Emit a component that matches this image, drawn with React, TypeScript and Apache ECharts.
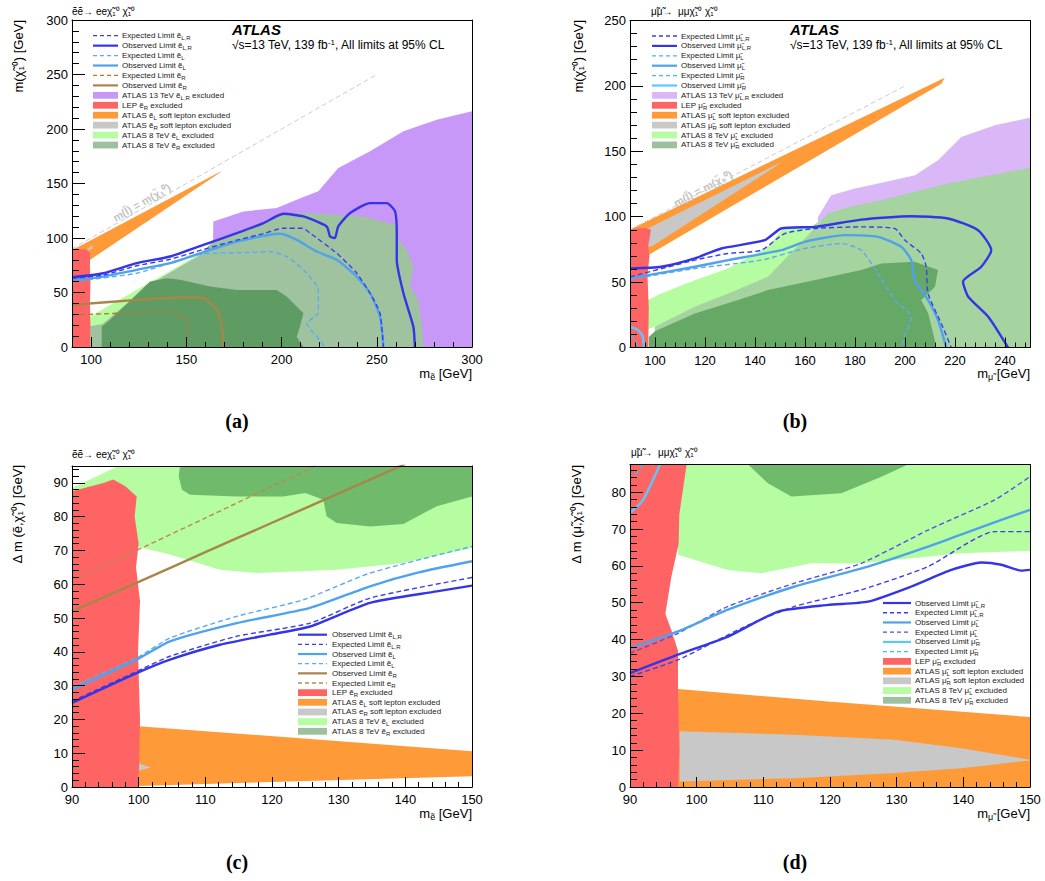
import React, { useEffect, useRef } from "react";
import * as echarts from "echarts";

const FONT = "'Liberation Sans', Arial, Helvetica, sans-serif";
const SERIF = "'Liberation Serif', 'DejaVu Serif', serif";
const E = "\u1EBD";
const MU = "\u03BC\u0303";
const CHI = "\u03C7\u0303";

// ---------- tick labels ----------
const aXTicks = [100, 150, 200, 250, 300];
const aYTicks = [0, 50, 100, 150, 200, 250, 300];
const bXTicks = [100, 120, 140, 160, 180, 200, 220, 240];
const bYTicks = [0, 50, 100, 150, 200, 250];
const cXTicks = [90, 100, 110, 120, 130, 140, 150];
const cYTicks = [0, 10, 20, 30, 40, 50, 60, 70, 80, 90];
const dXTicks = [90, 100, 110, 120, 130, 140, 150];
const dYTicks = [0, 10, 20, 30, 40, 50, 60, 70, 80];

function range(a: number, b: number, s: number) {
  const r: number[] = [];
  for (let v = a; v <= b + 1e-9; v += s) r.push(Math.round(v * 1000) / 1000);
  return r;
}

// ---------- panel (a) ----------
const aLep = [[90, 0], [99.5, 0], [99.7, 20], [99.4, 40], [99.7, 60], [99.4, 75], [99.6, 86], [97.5, 89.5], [93, 90], [90, 89.5]];
const aOrange = [[90, 90], [92.5, 91], [169, 162], [166, 158], [99.5, 80], [90, 80]];
const aGray = [[97, 88], [101, 94], [100.5, 90]];
const aDiag = [[90, 90], [250, 250]];
const aPurple = [[164, 90], [164.2, 115.2], [180, 124.4], [197.5, 127.5], [211.5, 137.6], [219.3, 142.8], [229.8, 164.2], [246.5, 179.5], [264, 197.9], [281.5, 208.6], [300, 216.3], [300, 0], [250, 0], [250, 90]];
const aGrayGreen = [[157, 85], [164.2, 96.8], [176.5, 104.5], [187, 112], [201, 121.3], [211.5, 122.9], [229, 121.3], [243, 119.8], [259.6, 112.1], [261.3, 98.3], [265.7, 89.2], [269.2, 73.8], [267.5, 55.5], [271.8, 43.2], [273.6, 21.8], [274.5, 0], [99.5, 0], [99.5, 21], [106, 22.5], [131, 58.5]];
const aLightGreen = [[99.5, 19], [99.5, 28], [157.3, 85.5], [158, 85], [131, 57.5], [106, 21]];
const aDarkGreen = [[105.6, 0], [105.6, 18.7], [110, 25], [131, 60], [139.7, 63.1], [146.7, 61.6], [162.5, 55.5], [176.5, 52.4], [187, 52.4], [197.5, 52.4], [202.7, 46.3], [211.5, 31], [209.7, 18.7], [208, 9.5], [211.5, 0]];
const aObsLR = [[90, 64], [106.5, 67.7], [124, 76.9], [141.5, 83], [159, 93.7], [176.5, 104.5], [190.5, 113.7], [201, 122.2], [211.5, 119.8], [223.7, 110.6], [225.5, 101.4], [228, 99.9], [229.8, 110.6], [236, 122.9], [246.5, 132], [255.2, 132], [259.6, 124.4], [260.5, 104.5], [260.5, 80], [264, 49.3], [269.2, 18.7], [270, 0]];
const aExpLR = [[90, 63], [106.5, 66], [124, 74.5], [141.5, 80.5], [159, 89.5], [176.5, 98], [190.5, 104], [201, 109], [211, 109], [215, 104.5], [229, 86], [239.5, 67.7], [246.5, 49.3], [251.7, 31], [253.5, 0]];
const aObsL = [[90, 61], [106.5, 64.6], [124, 70.8], [141.5, 76.9], [159, 87], [176.5, 96.8], [199.2, 103.9], [208, 98.3], [218.5, 87.6], [229, 80], [239.5, 64.6], [246.5, 49.3], [251.7, 27.9], [253.5, 0]];
const aExpL = [[90, 60], [124, 67.7], [159, 85.5], [183.5, 86.7], [194, 87.6], [202.7, 83], [211.5, 70.8], [219.3, 52.4], [219.3, 31], [213.2, 21.8], [218.5, 9.5], [222.8, 0]];
const aObsR = [[90, 38.6], [124, 43.2], [150.2, 45.6], [159, 44.7], [166, 34], [168.6, 18.7], [169.5, 0]];
const aExpR = [[90, 29.4], [115.2, 31], [137.9, 32.5], [148.5, 27.9], [151, 18.7], [149.3, 0]];

// ---------- panel (b) ----------
const bLep = [[90, 0], [97.3, 0], [97.5, 30], [97, 55], [97.8, 70], [97.2, 77], [98.4, 90], [96, 91.5], [90, 90.5]];
const bOrange = [[90, 90.2], [215.9, 206.3], [214.5, 201.7], [97.2, 70.6], [90, 68]];
const bGray = [[94.5, 88.4], [150.5, 141.8], [147.9, 138], [98.5, 77], [94, 80]];
const bDiag = [[90, 90], [200, 200]];
const bPurple = [[165, 90], [165.2, 99.9], [170.5, 116.4], [180, 121.5], [192, 126.6], [204, 131.7], [213.2, 143.1], [222.5, 161], [236, 170], [250, 175.7], [250, 0], [200, 0], [200, 90]];
const bGrayGreen = [[97.3, 0], [99.9, 10], [99.9, 16], [166.5, 97.3], [169.2, 102.4], [177.2, 107.5], [190.5, 112.6], [203.9, 119], [217.2, 125.3], [230.5, 130.4], [250, 137.5], [250, 0]];
const bLightGreen = [[97.2, 14], [97.2, 36.3], [102.5, 41.3], [115.9, 51.5], [129.2, 60.4], [145.2, 77], [151.2, 91], [164.5, 93.5], [167, 97.5], [145.2, 54.1], [129.2, 41.3], [115.9, 31.2], [99.9, 15.9]];
const bDarkGreen = [[97.5, 0], [97.5, 8], [100, 12.5], [115.9, 26], [133.2, 36.3], [145.2, 43.9], [165, 52], [182.5, 59.2], [190.5, 64.2], [203.9, 65.5], [213.2, 59.2], [212, 46.4], [206.5, 36.3], [209.3, 26], [211.9, 5.7], [212, 0]];
const bObsLR = [[90, 60.4], [102.5, 61.7], [115.9, 68.1], [126.5, 75.7], [143.9, 82.1], [150.5, 91], [163.9, 92.2], [182.5, 97.8], [202.5, 100.4], [217.2, 98.6], [229.2, 89.7], [234.5, 74.4], [230.5, 61.7], [223.2, 50.3], [225.3, 38.8], [233.3, 23.5], [241.2, 0]];
const bExpLR = [[90, 54], [115.9, 66.8], [129.2, 71.9], [142.5, 74.4], [151.9, 87.1], [163.9, 91], [182.5, 92.2], [195.9, 91], [199.9, 82.1], [206.5, 71.9], [208.5, 61.7], [209.2, 41.3], [214.5, 18.4], [218.5, 0]];
const bObsL = [[90, 52.8], [115.9, 61.7], [129.2, 66.8], [150.5, 74.4], [159.9, 80.8], [175.9, 85.9], [189.2, 84.6], [198.5, 77], [202.5, 66.8], [203.9, 51.5], [209.2, 36.3], [213.2, 21], [216.5, 0]];
const bExpL = [[90, 52], [115.9, 60.4], [142.5, 66.8], [159.9, 75.7], [174.5, 79.5], [182.5, 74.4], [189.2, 56.6], [195.9, 36.3], [202.5, 23.5], [199.9, 8.3], [198.5, 0]];
const bObsR = [[90, 16], [93, 13.5], [95, 9], [95.5, 0]];
const bExpR = [[90, 9], [92, 6], [93, 0]];

// ---------- panel (c) ----------
const cLep = [[90, 0], [100, 0], [100.2, 20], [99.9, 40], [100.2, 55], [99.6, 65], [100, 72], [99.4, 80], [99.7, 86], [98, 89], [96.2, 91], [94.7, 90], [90, 87.5]];
const cLightGreen = [[90, 88.5], [97, 95], [150, 95], [150, 70.7], [139.7, 66.3], [129.7, 64.3], [117.7, 63.3], [112.2, 64.3], [104.7, 68.8], [99.7, 71.2], [95, 72], [90, 75]];
const cDarkGreen = [[106.2, 95], [106, 92], [106.5, 88], [107.7, 86.5], [114.7, 86], [121.7, 86], [125, 87], [127.7, 85], [128.2, 80.1], [129.7, 78.1], [134.7, 77.1], [139.7, 77.8], [144.7, 83.1], [150, 86], [150, 95]];
const cOrange = [[100, 18], [150, 10.6], [150, 3.2], [100, 0.3]];
const cGray = [[100, 4.8], [101.8, 5.8], [100, 7]];
const cObsLR = [[90, 24.9], [99.7, 33.7], [104.7, 37.7], [112.2, 42.1], [119.7, 45.1], [125.7, 47.5], [134.7, 54.5], [144.7, 57.9], [150, 59.6]];
const cExpLR = [[90, 25.4], [99.7, 34.2], [104.7, 38.7], [114.7, 44.6], [125.7, 48.5], [134.7, 55.9], [150, 62]];
const cObsL = [[90, 28.8], [99.7, 37.7], [104.7, 43.1], [114.7, 48.5], [125.7, 53], [134.7, 59.4], [142, 63.5], [150, 66.8]];
const cExpL = [[90, 29.8], [99.7, 38.2], [104.7, 44.1], [114.7, 50.5], [124.7, 55.4], [134.7, 63.3], [150, 71.2]];
const cObsR = [[90, 52], [100, 60.7], [110, 69.5], [120, 78.2], [130, 86.9], [140, 95.6]];
const cExpR = [[90, 61], [100, 70.3], [110, 79.6], [120, 89], [127, 95.5]];

// ---------- panel (d) ----------
const dLep = [[90, 0], [97.2, 0], [97.4, 10], [97.2, 25], [97.2, 37], [96.2, 42.6], [95.3, 47], [96.2, 57], [97.3, 66], [97.4, 74], [98.5, 87.5], [90, 87.5]];
const dLightGreen = [[97, 87.5], [150, 87.5], [150, 64.1], [139.7, 63.4], [124.7, 60.7], [117.2, 60.7], [109.7, 58], [104.7, 58.9], [97.2, 63]];
const dDarkGreen = [[107.7, 87.5], [110.7, 82.4], [114.2, 78.8], [121.7, 79.7], [127.7, 84.2], [131.7, 87.5]];
const dOrange = [[97.2, 26.6], [119.7, 23.2], [150, 19], [150, 0], [97.2, 0]];
const dGray = [[97.45, 15.1], [114.7, 14.2], [129.7, 12.8], [139.7, 10.5], [150, 7.4], [150, 7.2], [139.7, 5.1], [129.7, 3.8], [114.7, 2.4], [97.45, 1.5]];
const dObsLR = [[90, 30.9], [97.2, 35.9], [104.7, 40.8], [112.2, 47.6], [119.7, 49.4], [125.7, 50.3], [132.2, 54.4], [138.2, 58.9], [142.7, 60.9], [145.7, 60.3], [148.7, 58.7], [150, 58.9]];
const dExpLR = [[90, 30], [97.2, 34.5], [107.2, 43.5], [114.7, 49], [124.7, 53.5], [134.7, 59.8], [144.7, 69.3], [150, 69.3]];
const dObsL = [[90, 37.7], [97.2, 42.2], [104.7, 48.1], [114.7, 54.4], [125.7, 59.8], [134.7, 65.2], [142.2, 70.2], [150, 75.2]];
const dExpL = [[90, 36.3], [97.2, 41.7], [104.7, 49], [114.7, 55.3], [124.7, 60.7], [134.7, 69.7], [144.7, 77.9], [150, 84.2]];
const dObsR = [[90, 74.3], [92, 78], [94.5, 87.5]];
const dExpR = [[90.8, 84.6], [92, 87.5]];

// ---------- colours ----------
const COL = {
  obsLR: "#3535e6", expLR: "#3d3df0", obsL: "#4fa2ec", expL: "#5aaaf5", expLd: "#5050e8",
  obsRe: "#a8864a", expRe: "#b97a30", expRc: "#bb8a4c", obsRm: "#5ac8fa", expRm: "#35c0f5",
  purpleA: "#c898f8", purpleB: "#dab8f8", red: "#ff6464", orange: "#fe9a38", gray: "#c8c8c8",
  lightGreen: "#b6fca0", grayGreenA: "#9fc39f", grayGreenB: "#a6d4a0", legGrayGreen: "#9dc19e",
  darkGreenA: "#5f9c63", darkGreenB: "#66a866", darkGreenC: "#6fbb6b", diag: "#cccccc",
};

const BLACK = { color: "#000", width: 1 };

function buildAxes(g: number, xr: number[], yr: number[], xMaj: number[], xMin: number[], yMaj: number[], yMin: number[], xAxes: any[], yAxes: any[]) {
  const base = { gridIndex: g, type: "value", z: 10, splitLine: { show: false } };
  xAxes.push({ ...base, min: xr[0], max: xr[1], position: "bottom",
    axisLine: { show: true, onZero: false, lineStyle: BLACK },
    axisTick: { show: true, inside: true, length: 10, customValues: xMaj, lineStyle: BLACK },
    axisLabel: { show: true, customValues: xMaj, color: "#000", fontSize: 13, fontFamily: FONT, margin: 6 } });
  xAxes.push({ ...base, min: xr[0], max: xr[1], position: "bottom",
    axisLine: { show: false, onZero: false },
    axisTick: { show: true, inside: true, length: 5, customValues: xMin, lineStyle: BLACK },
    axisLabel: { show: false } });
  xAxes.push({ ...base, min: xr[0], max: xr[1], position: "top",
    axisLine: { show: true, onZero: false, lineStyle: BLACK }, axisTick: { show: false }, axisLabel: { show: false } });
  yAxes.push({ ...base, min: yr[0], max: yr[1], position: "left",
    axisLine: { show: true, onZero: false, lineStyle: BLACK },
    axisTick: { show: true, inside: true, length: 13, customValues: yMaj, lineStyle: BLACK },
    axisLabel: { show: true, customValues: yMaj, color: "#000", fontSize: 13, fontFamily: FONT, margin: 4 } });
  yAxes.push({ ...base, min: yr[0], max: yr[1], position: "left",
    axisLine: { show: false, onZero: false },
    axisTick: { show: true, inside: true, length: 7, customValues: yMin, lineStyle: BLACK },
    axisLabel: { show: false } });
  yAxes.push({ ...base, min: yr[0], max: yr[1], position: "right",
    axisLine: { show: true, onZero: false, lineStyle: BLACK }, axisTick: { show: false }, axisLabel: { show: false } });
}

function poly(g: number, pts: number[][], color: string, z: number) {
  return {
    type: "custom", xAxisIndex: g * 3, yAxisIndex: g * 3, clip: true, silent: true, z,
    data: [pts[0]],
    renderItem: (_p: any, api: any) => ({
      type: "polygon",
      shape: { points: pts.map((p) => api.coord(p)) },
      style: { fill: color, stroke: null },
    }),
  };
}

function line(g: number, pts: number[][], color: string, dashed: boolean, width?: number) {
  return {
    type: "line", xAxisIndex: g * 3, yAxisIndex: g * 3, data: pts, symbol: "none", showSymbol: false,
    smooth: 0.2, clip: true, silent: true, z: 4,
    lineStyle: { color, width: width ?? (dashed ? 1.4 : 2.4), type: dashed ? [5, 3] : "solid" },
    emphasis: { disabled: true },
  };
}

function diagLabel(g: number, pos: number[]) {
  return {
    type: "custom", xAxisIndex: g * 3, yAxisIndex: g * 3, clip: true, silent: true, z: 3,
    data: [pos],
    renderItem: (_p: any, api: any) => {
      const p = api.coord(pos);
      const a = api.coord([100, 100]);
      const b = api.coord([200, 200]);
      const ang = Math.atan2(a[1] - b[1], b[0] - a[0]);
      return {
        type: "text", x: p[0], y: p[1], rotation: ang,
        style: { text: "m(l\u0303) = m(" + CHI + "\u2081\u2070)", fill: "#c4c4c4", fontSize: 11, fontWeight: "bold",
          fontFamily: FONT, align: "center", verticalAlign: "middle", textAlign: "center", textVerticalAlign: "middle" },
      };
    },
  };
}

const RICH = {
  s: { fontSize: 6, fontFamily: FONT, padding: [5, 0, 0, 0] },
  p: { fontSize: 7, fontFamily: FONT, padding: [0, 0, 6, 0] },
};
const RICH_BIG = {
  s: { fontSize: 9, fontFamily: FONT, padding: [7, 0, 0, 0] },
  p: { fontSize: 8, fontFamily: FONT, padding: [0, 0, 4, 0] },
};

type Entry = { k: "l" | "r"; c: string; d?: boolean; t: string };

function legend(x0: number, w: number, tx: number, y0: number, dy: number, entries: Entry[]) {
  const els: any[] = [];
  entries.forEach((e, i) => {
    const y = y0 + i * dy;
    if (e.k === "l") {
      els.push({ type: "line", shape: { x1: x0, y1: y, x2: x0 + w, y2: y },
        style: { stroke: e.c, lineWidth: e.d ? 1.3 : 2.2, lineDash: e.d ? [4, 3] : null } });
    } else {
      els.push({ type: "rect", shape: { x: x0, y: y - 3.4, width: w, height: 6.8 }, style: { fill: e.c } });
    }
    els.push({ type: "text", x: tx, y, style: { text: e.t, fill: "#222", fontSize: 8, fontFamily: FONT,
      verticalAlign: "middle", align: "left", rich: RICH } });
  });
  return els;
}

function txt(x: number, y: number, text: string, o: any = {}) {
  return { type: "text", x, y, rotation: o.rotation || 0,
    style: { text, fill: "#000", fontSize: o.size || 13, fontFamily: o.family || FONT, fontWeight: o.weight || "normal",
      fontStyle: o.style || "normal", align: o.align || "left", verticalAlign: "middle", rich: o.rich || RICH_BIG } };
}

function atlas(x: number, y1: number, y2: number, size: number) {
  return [
    txt(x, y1, "ATLAS", { size: 15, weight: "bold", style: "italic" }),
    txt(x, y2, "\u221As=13 TeV, 139 fb{p|-1}, All limits at 95% CL", { size }),
  ];
}

function buildOption() {
  const xAxes: any[] = [];
  const yAxes: any[] = [];
  buildAxes(0, [90, 300], [0, 300], aXTicks, range(90, 300, 10), aYTicks, range(0, 300, 10), xAxes, yAxes);
  buildAxes(1, [90, 250], [0, 250], bXTicks, range(92, 248, 4), bYTicks, range(0, 250, 10), xAxes, yAxes);
  buildAxes(2, [90, 150], [0, 95], cXTicks, range(90, 150, 2), cYTicks, range(0, 94, 2), xAxes, yAxes);
  buildAxes(3, [90, 150], [0, 87.5], dXTicks, range(90, 150, 2), dYTicks, range(0, 86, 2), xAxes, yAxes);

  const series: any[] = [
    // (a)
    poly(0, aPurple, COL.purpleA, 2), poly(0, aGrayGreen, COL.grayGreenA, 2), poly(0, aLightGreen, COL.lightGreen, 2),
    poly(0, aDarkGreen, COL.darkGreenA, 2), poly(0, aOrange, COL.orange, 2), poly(0, aGray, COL.gray, 2), poly(0, aLep, COL.red, 2),
    { ...line(0, aDiag, COL.diag, true, 1), z: 3, smooth: false },
    diagLabel(0, [126.6, 132.5]),
    line(0, aExpR, COL.expRe, true), line(0, aObsR, COL.obsRe, false),
    line(0, aExpL, COL.expL, true), line(0, aObsL, COL.obsL, false),
    line(0, aExpLR, COL.expLR, true), line(0, aObsLR, COL.obsLR, false),
    // (b)
    poly(1, bPurple, COL.purpleB, 2), poly(1, bGrayGreen, COL.grayGreenB, 2), poly(1, bLightGreen, COL.lightGreen, 2),
    poly(1, bDarkGreen, COL.darkGreenB, 2), poly(1, bOrange, COL.orange, 2), poly(1, bGray, COL.gray, 2), poly(1, bLep, COL.red, 2),
    { ...line(1, bDiag, COL.diag, true, 1), z: 3, smooth: false },
    diagLabel(1, [119.2, 121.5]),
    line(1, bExpR, COL.expRm, true), line(1, bObsR, COL.obsRm, false),
    line(1, bExpL, COL.expL, true), line(1, bObsL, COL.obsL, false),
    line(1, bExpLR, COL.expLR, true), line(1, bObsLR, COL.obsLR, false),
    // (c)
    poly(2, cLightGreen, COL.lightGreen, 2), poly(2, cDarkGreen, COL.darkGreenC, 2), poly(2, cOrange, COL.orange, 2),
    poly(2, cGray, COL.gray, 2), poly(2, cLep, COL.red, 2),
    line(2, cExpR, COL.expRc, true), line(2, cObsR, COL.obsRe, false),
    line(2, cExpL, COL.expL, true), line(2, cObsL, COL.obsL, false),
    line(2, cExpLR, COL.expLR, true), line(2, cObsLR, COL.obsLR, false),
    // (d)
    poly(3, dLightGreen, COL.lightGreen, 2), poly(3, dDarkGreen, COL.darkGreenC, 2), poly(3, dOrange, COL.orange, 2),
    poly(3, dGray, COL.gray, 2), poly(3, dLep, COL.red, 2),
    line(3, dExpR, COL.expRm, true), line(3, dObsR, COL.obsRm, false),
    line(3, dExpL, COL.expLd, true), line(3, dObsL, COL.obsL, false),
    line(3, dExpLR, COL.expLR, true), line(3, dObsLR, COL.obsLR, false),
  ];

  const legA: Entry[] = [
    { k: "l", c: COL.expLR, d: true, t: `Expected Limit ${E}{s|L,R}` },
    { k: "l", c: COL.obsLR, t: `Observed Limit ${E}{s|L,R}` },
    { k: "l", c: COL.expL, d: true, t: `Expected Limit ${E}{s|L}` },
    { k: "l", c: COL.obsL, t: `Observed Limit ${E}{s|L}` },
    { k: "l", c: COL.expRe, d: true, t: `Expected Limit ${E}{s|R}` },
    { k: "l", c: COL.obsRe, t: `Observed Limit ${E}{s|R}` },
    { k: "r", c: COL.purpleA, t: `ATLAS 13 TeV ${E}{s|L,R} excluded` },
    { k: "r", c: COL.red, t: `LEP ${E}{s|R} excluded` },
    { k: "r", c: COL.orange, t: `ATLAS ${E}{s|L} soft lepton excluded` },
    { k: "r", c: COL.gray, t: `ATLAS ${E}{s|R} soft lepton excluded` },
    { k: "r", c: COL.lightGreen, t: `ATLAS 8 TeV ${E}{s|L} excluded` },
    { k: "r", c: COL.legGrayGreen, t: `ATLAS 8 TeV ${E}{s|R} excluded` },
  ];
  const legB: Entry[] = [
    { k: "l", c: COL.expLR, d: true, t: `Expected Limit ${MU}{s|L,R}` },
    { k: "l", c: COL.obsLR, t: `Observed Limit ${MU}{s|L,R}` },
    { k: "l", c: COL.expL, d: true, t: `Expected Limit ${MU}{s|L}` },
    { k: "l", c: COL.obsL, t: `Observed Limit ${MU}{s|L}` },
    { k: "l", c: COL.expRm, d: true, t: `Expected Limit ${MU}{s|R}` },
    { k: "l", c: COL.obsRm, t: `Observed Limit ${MU}{s|R}` },
    { k: "r", c: COL.purpleB, t: `ATLAS 13 TeV ${MU}{s|L,R} excluded` },
    { k: "r", c: COL.red, t: `LEP ${MU}{s|R} excluded` },
    { k: "r", c: COL.orange, t: `ATLAS ${MU}{s|L} soft lepton excluded` },
    { k: "r", c: COL.gray, t: `ATLAS ${MU}{s|R} soft lepton excluded` },
    { k: "r", c: COL.lightGreen, t: `ATLAS 8 TeV ${MU}{s|L} excluded` },
    { k: "r", c: COL.legGrayGreen, t: `ATLAS 8 TeV ${MU}{s|R} excluded` },
  ];
  const legC: Entry[] = [
    { k: "l", c: COL.obsLR, t: `Observed Limit ${E}{s|L,R}` },
    { k: "l", c: COL.expLR, d: true, t: `Expected Limit ${E}{s|L,R}` },
    { k: "l", c: COL.obsL, t: `Observed Limit ${E}{s|L}` },
    { k: "l", c: COL.expL, d: true, t: `Expected Limit ${E}{s|L}` },
    { k: "l", c: COL.obsRe, t: `Observed Limit ${E}{s|R}` },
    { k: "l", c: COL.expRc, d: true, t: `Expected Limit e{s|R}` },
    { k: "r", c: COL.red, t: `LEP ${E}{s|R} excluded` },
    { k: "r", c: COL.orange, t: `ATLAS ${E}{s|L} soft lepton excluded` },
    { k: "r", c: COL.gray, t: `ATLAS e{s|R} soft lepton excluded` },
    { k: "r", c: COL.lightGreen, t: `ATLAS 8 TeV ${E}{s|L} excluded` },
    { k: "r", c: COL.legGrayGreen, t: `ATLAS 8 TeV ${E}{s|R} excluded` },
  ];
  const legD: Entry[] = [
    { k: "l", c: COL.obsLR, t: `Observed Limit ${MU}{s|L,R}` },
    { k: "l", c: COL.expLR, d: true, t: `Expected Limit ${MU}{s|L,R}` },
    { k: "l", c: COL.obsL, t: `Observed Limit ${MU}{s|L}` },
    { k: "l", c: COL.expLd, d: true, t: `Expected Limit ${MU}{s|L}` },
    { k: "l", c: COL.obsRm, t: `Observed Limit ${MU}{s|R}` },
    { k: "l", c: COL.expRm, d: true, t: `Expected Limit ${MU}{s|R}` },
    { k: "r", c: COL.red, t: `LEP ${MU}{s|R} excluded` },
    { k: "r", c: COL.orange, t: `ATLAS ${MU}{s|L} soft lepton excluded` },
    { k: "r", c: COL.gray, t: `ATLAS ${MU}{s|R} soft lepton excluded` },
    { k: "r", c: COL.lightGreen, t: `ATLAS 8 TeV ${MU}{s|L} excluded` },
    { k: "r", c: COL.legGrayGreen, t: `ATLAS 8 TeV ${MU}{s|R} excluded` },
  ];

  const yTitleM = "m(" + CHI + "\u2081\u2070) [GeV]";
  const graphic: any[] = [
    ...legend(93, 25, 122, 35.7, 9.94, legA),
    ...legend(652, 25, 681, 36, 9.9, legB),
    ...legend(298, 29, 332, 634.7, 9.66, legC),
    ...legend(883, 28, 915, 603, 9.73, legD),
    ...atlas(232, 29.5, 44.5, 12),
    ...atlas(790, 29.5, 44.5, 12),
    ...atlas(148, 742, 765, 13),
    ...atlas(707, 742, 765, 13),
    txt(72, 11, `${E}${E}\u2192 ee${CHI}\u2081\u2070 ${CHI}\u2081\u2070`, { size: 10 }),
    txt(651, 11, `${MU}${MU}\u2192  \u03BC\u03BC${CHI}\u2081\u2070 ${CHI}\u2081\u2070`, { size: 10 }),
    txt(72, 454, `${E}${E}\u2192 ee${CHI}\u2081\u2070 ${CHI}\u2081\u2070`, { size: 10 }),
    txt(631, 452, `${MU}${MU}\u2192  \u03BC\u03BC${CHI}\u2081\u2070 ${CHI}\u2081\u2070`, { size: 10 }),
    txt(18, 20, yTitleM, { rotation: Math.PI / 2, align: "right", size: 13 }),
    txt(578, 20, yTitleM, { rotation: Math.PI / 2, align: "right", size: 13 }),
    txt(17, 465, `\u0394 m (${E},${CHI}\u2081\u2070) [GeV]`, { rotation: Math.PI / 2, align: "right", size: 13 }),
    txt(576, 465, `\u0394 m (${MU},${CHI}\u2081\u2070) [GeV]`, { rotation: Math.PI / 2, align: "right", size: 13 }),
    txt(472, 373, `m{s|${E}} [GeV]`, { align: "right", size: 13 }),
    txt(1030, 373, `m{s|${MU}} [GeV]`, { align: "right", size: 13 }),
    txt(472, 813, `m{s|${E}} [GeV]`, { align: "right", size: 13 }),
    txt(1030, 813, `m{s|${MU}} [GeV]`, { align: "right", size: 13 }),
    txt(237, 421, "(a)", { align: "center", size: 20, weight: "bold", family: SERIF }),
    txt(795, 421, "(b)", { align: "center", size: 20, weight: "bold", family: SERIF }),
    txt(237, 862, "(c)", { align: "center", size: 20, weight: "bold", family: SERIF }),
    txt(795, 862, "(d)", { align: "center", size: 20, weight: "bold", family: SERIF }),
  ];

  return {
    animation: false,
    backgroundColor: "#fff",
    grid: [
      { left: 72, top: 20, width: 400, height: 327 },
      { left: 630, top: 20.5, width: 400, height: 327 },
      { left: 72, top: 466, width: 400, height: 321 },
      { left: 630, top: 464.5, width: 400, height: 322.5 },
    ],
    xAxis: xAxes,
    yAxis: yAxes,
    series,
    graphic,
  };
}

export default function App() {
  const ref = useRef<HTMLDivElement>(null);
  useEffect(() => {
    document.body.style.margin = "0";
    const chart = echarts.init(ref.current as HTMLDivElement, null, { renderer: "svg" });
    chart.setOption(buildOption() as any);
    return () => chart.dispose();
  }, []);
  return <div ref={ref} style={{ width: 1045, height: 881, background: "#fff" }} />;
}
